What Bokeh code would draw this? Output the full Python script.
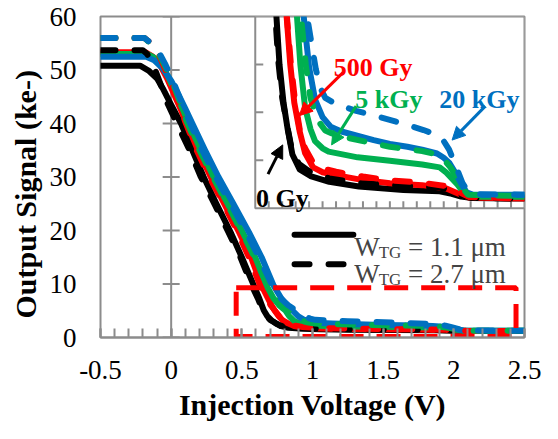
import numpy as np
from math import pi
from bokeh.plotting import figure
from bokeh.models import Range1d, FixedTicker, Span, Label, Arrow, NormalHead, Title
from bokeh.embed import file_html
from bokeh.resources import INLINE

# ---------------- data (injection voltage V, output signal ke-) ----------------
X_TICKS = [-0.5, 0.0, 0.5, 1.0, 1.5, 2.0, 2.5]
X_TICK_LABELS = ["-0.5", "0", "0.5", "1", "1.5", "2", "2.5"]
Y_TICKS = [0, 10, 20, 30, 40, 50, 60]

# 0 Gy, W_TG = 1.1 um
v_0gy_11 = [-0.5, -0.22, -0.16, -0.10, -0.06, 0.00, 0.07, 0.15, 0.23, 0.32, 0.42, 0.50, 0.585, 0.625, 0.655, 0.68, 0.71, 0.74, 0.776, 0.83, 0.91, 1.05, 1.27, 1.60, 1.87, 1.96, 2.03, 2.11, 2.50]
s_0gy_11 = [50.8, 50.8, 49.9, 48.4, 46.6, 43.5, 40.0, 35.0, 30.0, 25.0, 19.7, 15.0, 9.7, 7.2, 5.1, 4.0, 3.2, 2.66, 2.12, 1.81, 1.67, 1.55, 1.45, 1.38, 1.35, 1.30, 1.24, 1.21, 1.20]
# 0 Gy, W_TG = 2.7 um
v_0gy_27 = [-0.5, -0.20, -0.17, -0.12, -0.07, -0.03, 0.04, 0.13, 0.21, 0.305, 0.405, 0.49, 0.57, 0.615, 0.645, 0.67, 0.70, 0.735, 0.77, 0.825, 0.91, 1.05, 1.27, 1.60, 1.87, 1.96, 2.03, 2.11, 2.50]
s_0gy_27 = [53.7, 53.7, 53.0, 50.5, 47.0, 44.0, 40.0, 35.0, 30.0, 25.0, 19.7, 15.0, 9.7, 7.2, 5.2, 4.1, 3.3, 2.75, 2.25, 1.92, 1.75, 1.62, 1.52, 1.46, 1.43, 1.36, 1.27, 1.21, 1.20]
# 500 Gy, 1.1 um
v_500_11 = [-0.5, -0.18, -0.13, -0.08, -0.03, 0.02, 0.07, 0.11, 0.19, 0.28, 0.375, 0.48, 0.565, 0.64, 0.685, 0.71, 0.733, 0.76, 0.79, 0.83, 0.87, 0.93, 1.00, 1.08, 1.27, 1.50, 1.74, 1.92, 2.01, 2.09, 2.50]
s_500_11 = [53.3, 53.3, 52.5, 51.0, 48.5, 45.5, 42.5, 40.0, 35.0, 30.0, 25.0, 19.7, 15.0, 9.7, 7.3, 6.0, 5.0, 4.0, 3.2, 2.6, 2.15, 1.85, 1.75, 1.70, 1.60, 1.52, 1.48, 1.41, 1.30, 1.22, 1.20]
# 500 Gy, 2.7 um
v_500_27 = [-0.5, -0.19, -0.14, -0.09, -0.04, 0.01, 0.06, 0.10, 0.18, 0.27, 0.37, 0.47, 0.55, 0.63, 0.675, 0.705, 0.735, 0.765, 0.795, 0.83, 0.87, 0.93, 1.00, 1.10, 1.30, 1.50, 1.74, 1.92, 2.01, 2.09, 2.50]
s_500_27 = [56.0, 56.0, 55.0, 53.0, 50.0, 46.5, 43.3, 40.3, 35.0, 30.0, 25.0, 19.7, 15.0, 9.7, 7.3, 6.0, 5.0, 4.0, 3.25, 2.65, 2.25, 1.95, 1.83, 1.76, 1.66, 1.58, 1.53, 1.46, 1.34, 1.23, 1.20]
# 5 kGy, 1.1 um
v_5k_11 = [-0.5, -0.17, -0.12, -0.07, -0.02, 0.03, 0.08, 0.125, 0.21, 0.30, 0.40, 0.505, 0.595, 0.675, 0.725, 0.765, 0.81, 0.835, 0.87, 0.91, 0.944, 1.00, 1.045, 1.26, 1.50, 1.74, 1.87, 1.92, 1.96, 2.00, 2.03, 2.06, 2.10, 2.50]
s_5k_11 = [53.0, 53.0, 52.3, 51.0, 48.7, 45.8, 42.8, 40.0, 35.0, 30.0, 25.0, 19.7, 15.0, 9.7, 7.3, 6.0, 5.0, 4.0, 3.1, 2.65, 2.4, 2.25, 2.18, 2.06, 1.99, 1.91, 1.85, 1.74, 1.62, 1.50, 1.39, 1.28, 1.24, 1.24]
# 5 kGy, 2.7 um
v_5k_27 = [-0.5, -0.19, -0.14, -0.09, -0.04, 0.02, 0.07, 0.11, 0.20, 0.295, 0.395, 0.50, 0.59, 0.68, 0.74, 0.78, 0.84, 0.875, 0.91, 0.96, 1.02, 1.10, 1.30, 1.50, 1.74, 1.85, 1.90, 1.95, 2.00, 2.04, 2.08, 2.50]
s_5k_27 = [56.0, 56.0, 54.8, 53.2, 50.6, 47.0, 43.5, 40.3, 35.0, 30.0, 25.0, 19.7, 15.0, 9.7, 7.3, 6.2, 5.0, 4.0, 3.3, 2.85, 2.62, 2.52, 2.40, 2.28, 2.19, 2.12, 2.02, 1.85, 1.62, 1.42, 1.28, 1.25]
# 20 kGy, 1.1 um
v_20k_11 = [-0.5, -0.18, -0.12, -0.06, 0.00, 0.05, 0.10, 0.15, 0.24, 0.335, 0.44, 0.55, 0.64, 0.725, 0.78, 0.82, 0.86, 0.90, 0.944, 1.00, 1.06, 1.14, 1.38, 1.50, 1.63, 1.74, 1.85, 1.90, 1.94, 1.99, 2.03, 2.07, 2.12, 2.50]
s_20k_11 = [52.5, 52.5, 51.8, 50.3, 48.0, 45.5, 42.8, 40.0, 35.0, 30.0, 25.0, 19.7, 15.0, 9.7, 7.3, 6.0, 5.0, 3.94, 3.27, 2.9, 2.7, 2.6, 2.42, 2.34, 2.28, 2.22, 2.14, 2.05, 1.95, 1.72, 1.51, 1.33, 1.28, 1.28]
# 20 kGy, 2.7 um
v_20k_27 = [-0.5, -0.19, -0.14, -0.09, -0.04, 0.02, 0.08, 0.13, 0.22, 0.315, 0.42, 0.53, 0.62, 0.715, 0.775, 0.83, 0.885, 0.92, 0.95, 0.985, 1.02, 1.10, 1.25, 1.40, 1.58, 1.75, 1.85, 1.90, 1.94, 1.99, 2.04, 2.08, 2.14, 2.50]
s_20k_27 = [56.0, 56.0, 55.0, 53.5, 51.0, 47.5, 43.5, 40.3, 35.0, 30.0, 25.0, 19.7, 15.0, 9.7, 7.3, 6.0, 5.0, 4.4, 3.9, 3.5, 3.3, 3.17, 3.03, 2.92, 2.78, 2.63, 2.53, 2.40, 2.22, 1.88, 1.52, 1.35, 1.29, 1.28]

DOSE_LABELS = ["0 Gy", "500 Gy", "5 kGy", "20 kGy"]
LEGEND_LABELS = ["1.1 \u03bcm", "2.7 \u03bcm"]

# ---------------- styles / layout ----------------
BLACK, RED, GREEN, BLUE = "#000000", "#FF0000", "#00B050", "#0070C0"
GRAY = "#8C8C8C"
FONT = "Liberation Serif"
LW = 6
DASH = "15 19"

SOLIDS = [(v_0gy_11, s_0gy_11, BLACK), (v_500_11, s_500_11, RED),
          (v_5k_11, s_5k_11, GREEN), (v_20k_11, s_20k_11, BLUE)]
DASHED = [(v_0gy_27, s_0gy_27, BLACK), (v_500_27, s_500_27, RED),
          (v_5k_27, s_5k_27, GREEN), (v_20k_27, s_20k_27, BLUE)]

# zoomed region (main-axis units) and inset axes
ZOOM_V = (0.46, 2.44)
ZOOM_S = (0.2, 9.3)
INSET_V = (0.5, 2.5)
INSET_S = (1.0, 5.0)
INSET_LEFT_FRAC = 0.365     # inset left edge, fraction of plot width
INSET_BOTTOM_FRAC = 0.403   # inset bottom edge, fraction of plot height

p = figure(width=542, height=423, output_backend="svg", toolbar_location=None,
           x_range=Range1d(-0.5, 2.5), y_range=Range1d(0, 60),
           min_border_left=100, min_border_right=18, min_border_top=16,
           min_border_bottom=82)
p.grid.visible = False
p.outline_line_color = GRAY
p.outline_line_width = 2
p.background_fill_color = "white"
p.border_fill_color = "white"

xa = p.xaxis[0]
xa.ticker = FixedTicker(ticks=X_TICKS,
                        minor_ticks=[round(-0.5 + 0.1 * i, 2) for i in range(31)])
xa.major_label_overrides = dict(zip(X_TICKS, X_TICK_LABELS))
xa.axis_line_color = GRAY
xa.axis_line_width = 2
xa.major_tick_line_color = GRAY
xa.major_tick_line_width = 2
xa.major_tick_in = 9
xa.major_tick_out = 0
xa.minor_tick_line_color = GRAY
xa.minor_tick_line_width = 2
xa.minor_tick_in = 9
xa.minor_tick_out = 0
xa.major_label_text_font = FONT
xa.major_label_text_font_size = "27px"
xa.major_label_text_color = "black"
xa.major_label_standoff = 23
xa.axis_label = "Injection Voltage (V)"
xa.axis_label_text_font = FONT
xa.axis_label_text_font_size = "30px"
xa.axis_label_text_font_style = "bold"
xa.axis_label_text_color = "black"
xa.axis_label_standoff = 6

ya = p.yaxis[0]
ya.ticker = FixedTicker(ticks=Y_TICKS)
ya.axis_line_color = None
ya.major_tick_in = 0
ya.major_tick_out = 0
ya.major_tick_line_color = None
ya.minor_tick_line_color = None
ya.major_label_text_font = FONT
ya.major_label_text_font_size = "27px"
ya.major_label_text_color = "black"
ya.major_label_standoff = 24

# y title, set in the left panel and placed a little below centre like the original
p.add_layout(Title(text="Output Signal  (ke-)", align="left", offset=19,
                   text_font=FONT, text_font_size="30px", text_font_style="bold",
                   text_color="black", standoff=10), "left")

# y axis drawn through V = 0 with crossing ticks
p.add_layout(Span(location=0, dimension="height", line_color=GRAY, line_width=2, level="underlay"))
p.scatter(x=[0] * len(Y_TICKS), y=Y_TICKS, marker="dash", size=17, line_color=GRAY, line_width=2)

# main curves
for v, s, c in SOLIDS:
    p.line(v, s, line_color=c, line_width=LW, line_join="round", line_cap="round")
for v, s, c in DASHED:
    p.line(v, s, line_color=c, line_width=LW, line_dash=DASH, line_join="round", line_cap="round")

# red dashed box marking the zoomed region
p.quad(left=[ZOOM_V[0]], right=[ZOOM_V[1]], bottom=[ZOOM_S[0]], top=[ZOOM_S[1]],
       fill_color=None, line_color=RED, line_width=5, line_dash="24 13")

# legend (drawn by hand for the subscript)
LEG_V = (0.873, 1.289)
LEG_ROWS = [(19.2, 17.0, None), (13.7, 11.9, DASH)]
for (ys, yb, dash), lab in zip(LEG_ROWS, LEGEND_LABELS):
    kw = dict(line_dash=dash) if dash else {}
    p.line(list(LEG_V), [ys, ys], line_color=BLACK, line_width=LW, line_cap="round", **kw)
    p.add_layout(Label(x=1.296, y=yb, text="W", text_font=FONT, text_font_size="27px",
                       text_baseline="alphabetic", text_align="left"))
    p.add_layout(Label(x=1.468, y=yb - 1.1, text="TG", text_font=FONT, text_font_size="17px",
                       text_baseline="alphabetic", text_align="left"))
    p.add_layout(Label(x=1.675, y=yb, text="= " + lab, text_font=FONT, text_font_size="27px",
                       text_baseline="alphabetic", text_align="left"))

# ---------------- inset ----------------
ix0 = INSET_V[0] - (INSET_V[1] - INSET_V[0]) * INSET_LEFT_FRAC / (1 - INSET_LEFT_FRAC)
iy0 = INSET_S[0] - (INSET_S[1] - INSET_S[0]) * INSET_BOTTOM_FRAC / (1 - INSET_BOTTOM_FRAC)
p.extra_x_ranges = {"ix": Range1d(ix0, INSET_V[1])}
p.extra_y_ranges = {"iy": Range1d(iy0, INSET_S[1])}
IR = dict(x_range_name="ix", y_range_name="iy")

p.quad(left=[INSET_V[0]], right=[INSET_V[1]], bottom=[INSET_S[0]], top=[INSET_S[1]],
       fill_color="white", line_color=GRAY, line_width=2, **IR)
inset_xt = [round(0.6 + 0.1 * i, 2) for i in range(19)]
p.ray(x=inset_xt, y=[INSET_S[0]] * len(inset_xt), length=7, length_units="screen",
      angle=pi / 2, line_color=GRAY, line_width=2, **IR)
inset_yt = [2.0, 3.0, 4.0]
p.ray(x=[INSET_V[0]] * len(inset_yt), y=inset_yt, length=8, length_units="screen",
      angle=0, line_color=GRAY, line_width=2, **IR)


def inset_part(v, s):
    v = np.asarray(v, dtype=float)
    s = np.asarray(s, dtype=float)
    m = v >= INSET_V[0]
    return v[m], s[m]


for v, s, c in SOLIDS:
    vv, ss = inset_part(v, s)
    p.line(vv, ss, line_color=c, line_width=LW, line_join="round", line_cap="round", **IR)
for v, s, c in DASHED:
    vv, ss = inset_part(v, s)
    p.line(vv, ss, line_color=c, line_width=LW, line_dash=DASH, line_join="round",
           line_cap="round", **IR)

# dose annotations with arrows
ANN = [  # text, color, text x, text y, align, arrow start, arrow end
    (DOSE_LABELS[0], BLACK, 0.505, 1.20, "left", (0.595, 1.71), (0.704, 2.32)),
    (DOSE_LABELS[1], RED, 1.376, 3.94, "center", (1.155, 3.84), (0.827, 2.93)),
    (DOSE_LABELS[2], GREEN, 1.493, 3.27, "center", (1.249, 3.13), (1.067, 2.32)),
    (DOSE_LABELS[3], BLUE, 2.165, 3.27, "center", (2.209, 3.13), (1.962, 2.42)),
]
for txt, c, tx, ty, al, a0, a1 in ANN:
    p.add_layout(Arrow(x_start=a0[0], y_start=a0[1], x_end=a1[0], y_end=a1[1],
                       line_color=c, line_width=3,
                       end=NormalHead(size=13, fill_color=c, line_color=c), **IR))
    p.add_layout(Label(x=tx, y=ty, text=txt, text_color=c, text_font=FONT,
                       text_font_size="26px", text_font_style="bold",
                       text_align=al, text_baseline="alphabetic", **IR))

open("out.html", "w").write(file_html(p, INLINE))
